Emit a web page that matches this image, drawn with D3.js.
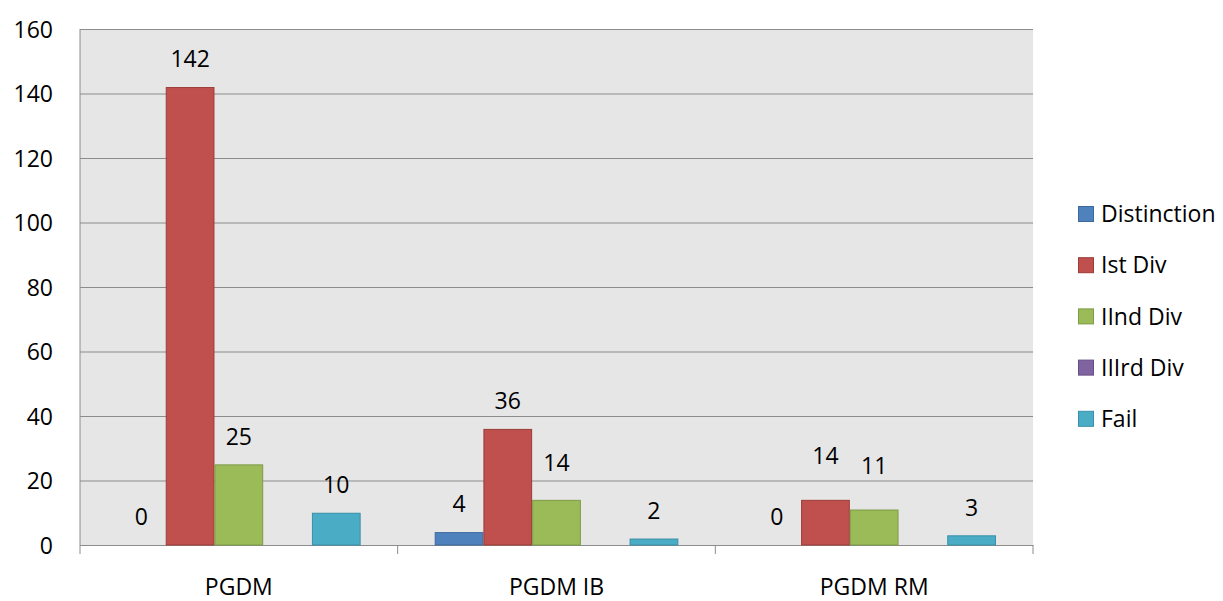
<!DOCTYPE html>
<html>
<head>
<meta charset="utf-8">
<script src="https://cdn.jsdelivr.net/npm/d3@7"></script>
<style>
  body { margin: 0; background: #fff; }
  text { font-family: "Open Sans", Lato, sans-serif; fill: #000; }
</style>
</head>
<body>
<svg id="chart" width="1223" height="601"></svg>
<script>
// chart data
const courses = ["PGDM", "PGDM IB", "PGDM RM"];
const divisions = ["Distinction", "Ist Div", "IInd Div", "IIIrd Div", "Fail"];
const distinction = [0, 4, 0];
const firstDiv = [142, 36, 14];
const secondDiv = [25, 14, 11];
const thirdDiv = [null, null, null]; // no values in the source
const fail = [10, 2, 3];
const yTicks = [0, 20, 40, 60, 80, 100, 120, 140, 160];

const seriesValues = [distinction, firstDiv, secondDiv, thirdDiv, fail];
const colors = ["#4f81bd", "#c0504d", "#9bbb59", "#8064a2", "#4bacc6"];
const strokes = ["#3d6a9e", "#9c3b38", "#7d9a44", "#654d86", "#3790a8"];

// a few labels were pushed up in the original to avoid overlaps
const labelLift = { "PGDM IB|IInd Div": 37, "PGDM RM|Ist Div": 44, "PGDM RM|IInd Div": 44 };

const svg = d3.select("#chart");
const margin = { left: 80, top: 29, right: 190, bottom: 56 };
const width = 1223 - margin.left - margin.right,
      height = 601 - margin.top - margin.bottom;

const g = svg.append("g").attr("transform", `translate(${margin.left},${margin.top})`);

const x0 = d3.scaleBand().domain(courses).range([0, width]).padding(0);
const x1 = d3.scaleBand().domain(divisions).range([0, x0.bandwidth()]).paddingOuter(0.76).paddingInner(0);
const y = d3.scaleLinear().domain([0, 160]).range([height, 0]);

// plot background
g.append("rect")
  .attr("width", width).attr("height", height)
  .attr("fill", "#e6e6e6");

// gridlines + y axis
const yAxis = g.append("g")
  .call(d3.axisLeft(y).tickValues(yTicks).tickSize(10).tickPadding(17).tickSizeOuter(0));
yAxis.select(".domain").remove();
yAxis.selectAll(".tick line").attr("x2", width).attr("stroke", "#8c8c8c");
yAxis.selectAll(".tick text").style("font-size", "23px").attr("dy", "0.36em");

g.append("line")
  .attr("x1", 0).attr("x2", 0).attr("y1", 0).attr("y2", height + 9)
  .attr("stroke", "#8c8c8c");

// x axis
const xAxis = g.append("g").attr("transform", `translate(0,${height})`)
  .call(d3.axisBottom(x0).tickSize(0));
xAxis.select(".domain").attr("stroke", "#8c8c8c");
xAxis.selectAll(".tick text").style("font-size", "23px").attr("y", 50).attr("dy", 0);

// category separators
g.append("g").selectAll("line")
  .data(courses.slice(1).concat(["end"]))
  .enter().append("line")
  .attr("x1", (d, i) => x0.bandwidth() * (i + 1))
  .attr("x2", (d, i) => x0.bandwidth() * (i + 1))
  .attr("y1", height).attr("y2", height + 9)
  .attr("stroke", "#8c8c8c");

// bars
const groups = g.append("g").selectAll("g")
  .data(courses)
  .enter().append("g")
  .attr("transform", d => `translate(${x0(d)},0)`);

const cells = groups.selectAll("rect")
  .data((c, ci) => divisions.map((dv, si) => ({ course: c, div: dv, si: si, value: seriesValues[si][ci] })))
  .enter();

cells.filter(d => d.value != null && d.value > 0).append("rect")
  .attr("x", d => x1(d.div) + 0.5)
  .attr("y", d => y(d.value) + 0.5)
  .attr("width", x1.bandwidth() - 1)
  .attr("height", d => y(0) - y(d.value) - 0.5)
  .attr("fill", d => colors[d.si])
  .attr("stroke", d => strokes[d.si])
  .attr("stroke-width", 1);

// value labels
groups.selectAll("text.val")
  .data((c, ci) => divisions.map((dv, si) => ({ course: c, div: dv, si: si, value: seriesValues[si][ci] }))
    .filter(d => d.value != null))
  .enter().append("text")
  .attr("class", "val")
  .attr("x", d => x1(d.div) + x1.bandwidth() / 2)
  .attr("y", d => y(d.value) - (labelLift[d.course + "|" + d.div] || 28))
  .attr("dy", "0.36em")
  .attr("text-anchor", "middle")
  .style("font-size", "23px")
  .text(d => d.value);

// legend
const legend = svg.append("g").attr("transform", "translate(1078,214)");
const items = legend.selectAll("g")
  .data(divisions)
  .enter().append("g")
  .attr("transform", (d, i) => `translate(0,${i * 51.2})`);
items.append("rect")
  .attr("x", 0.5).attr("y", -7.5).attr("width", 15).attr("height", 15)
  .attr("fill", (d, i) => colors[i])
  .attr("stroke", (d, i) => strokes[i]);
items.append("text")
  .attr("x", 23).attr("dy", "0.36em")
  .style("font-size", "23px")
  .text(d => d);
</script>
</body>
</html>
